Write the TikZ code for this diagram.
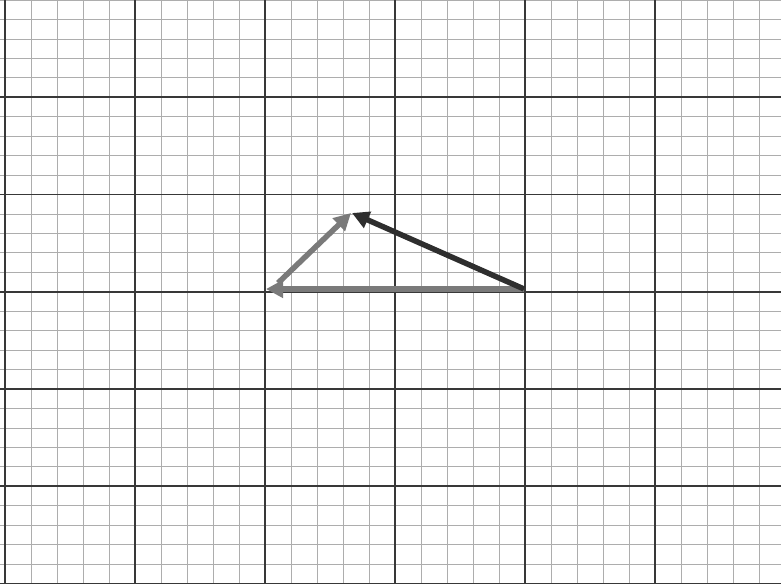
\documentclass[tikz,border=0pt]{standalone}
\usetikzlibrary{arrows.meta}
\begin{document}
\begin{tikzpicture}[x=1pt,y=-1pt,
  minorline/.style={draw=black!32,line width=0.8pt},
  majorline/.style={draw=black!78,line width=1.6pt},
  vec/.style={line width=5.5pt,-{Triangle[length=17pt,width=17pt]}},
  lightvec/.style={vec,draw=black!52,fill=black!52},
  darkvec/.style={vec,draw=black!82,fill=black!82}]
\useasboundingbox[fill=white] (0,0) rectangle (781,587);
% minor grid
\foreach \k in {0,...,29} {
  \draw[minorline] ({5+26*\k},0) -- ({5+26*\k},583.5);
}
\foreach \k in {0,...,29} {
  \draw[minorline] (0,{19.45*\k}) -- (781,{19.45*\k});
}
% major grid
\foreach \k in {0,...,5} {
  \draw[majorline] ({5+130*\k},0) -- ({5+130*\k},583.5);
}
\foreach \k in {1,...,6} {
  \draw[majorline] (0,{97.25*\k}) -- (781,{97.25*\k});
}
% vectors
\coordinate (A) at (524,289);
\coordinate (B) at (266,289);
\coordinate (Bs) at (278,283);
\coordinate (C) at (351,213);
\coordinate (Cg) at (352,213);
\draw[lightvec] (A) -- (B);
\draw[lightvec] (Bs) -- (C);
\draw[darkvec] (A) -- (Cg);
\end{tikzpicture}
\end{document}
